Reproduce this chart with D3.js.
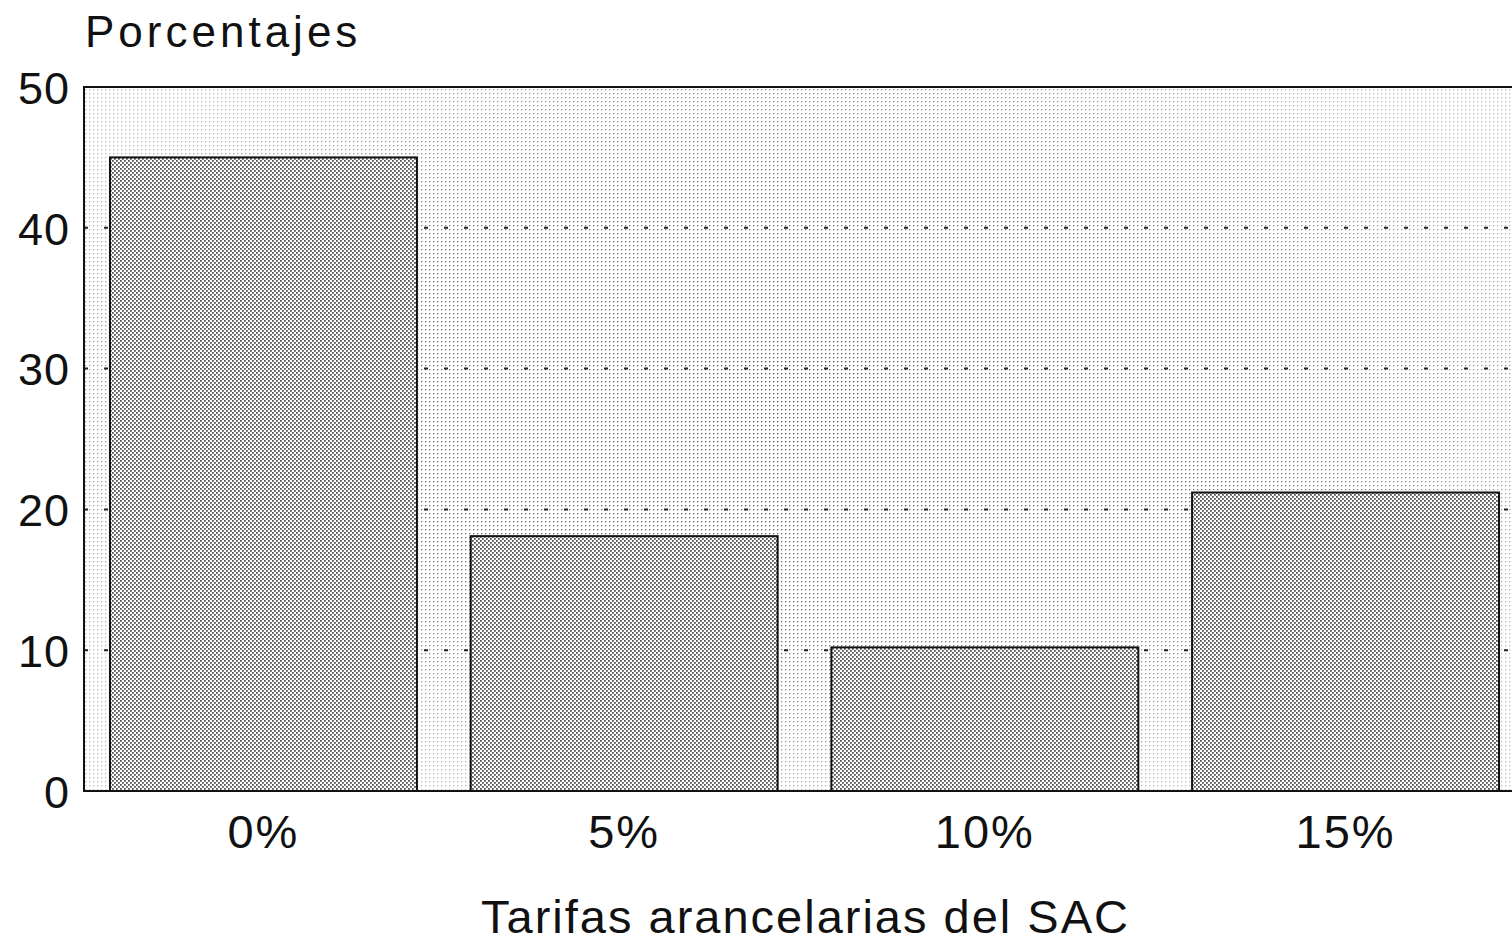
<!DOCTYPE html>
<html>
<head>
<meta charset="utf-8">
<script src="https://cdn.jsdelivr.net/npm/d3@7"></script>
<style>
body { margin: 0; background: #fff; }
svg text { font-family: "Liberation Sans", Arial, sans-serif; fill: #111; }
</style>
</head>
<body>
<svg id="chart"></svg>
<script>
// tarifas del SAC, porcentaje de partidas
var categories = ["0%", "5%", "10%", "15%"];
var values = [45, 18.1, 10.2, 21.2];
var yTicks = [0, 10, 20, 30, 40, 50];
var gridTicks = [10, 20, 30, 40];

var width = 1512,
    height = 942;
var margin = {top: 87, left: 84, bottom: 151};
var plotBottom = height - margin.bottom;

var svg = d3.select("#chart")
  .attr("width", width)
  .attr("height", height);

var x = d3.scaleBand()
  .domain(categories)
  .range([margin.left, 1525])
  .paddingInner(0.149)
  .paddingOuter(0.072);

var y = d3.scaleLinear()
  .domain([0, 50])
  .range([plotBottom, margin.top]);

var defs = svg.append("defs");

// halftone for the bars
var barPat = defs.append("pattern")
  .attr("id", "barDots")
  .attr("patternUnits", "userSpaceOnUse")
  .attr("width", 4).attr("height", 4);
barPat.append("rect").attr("width", 4).attr("height", 4).attr("fill", "#fff");
barPat.append("rect").attr("x", 0).attr("y", 0).attr("width", 1.8).attr("height", 1.8).attr("fill", "#555");
barPat.append("rect").attr("x", 2).attr("y", 2).attr("width", 1.8).attr("height", 1.8).attr("fill", "#555");

// sparse stipple for the background
var bgPat = defs.append("pattern")
  .attr("id", "bgDots")
  .attr("patternUnits", "userSpaceOnUse")
  .attr("width", 4).attr("height", 4);
bgPat.append("rect").attr("x", 1).attr("y", 1).attr("width", 1.3).attr("height", 1.3).attr("fill", "#444");

var grad = defs.append("radialGradient")
  .attr("id", "bgFade")
  .attr("cx", "0.5").attr("cy", "0.45").attr("r", "0.6");
grad.append("stop").attr("offset", "0").attr("stop-color", "#fff").attr("stop-opacity", 0.95);
grad.append("stop").attr("offset", "0.6").attr("stop-color", "#fff").attr("stop-opacity", 0.7);
grad.append("stop").attr("offset", "1").attr("stop-color", "#fff").attr("stop-opacity", 0.35);
var mask = defs.append("mask").attr("id", "bgMask");
mask.append("rect")
  .attr("x", margin.left).attr("y", margin.top)
  .attr("width", width - margin.left).attr("height", plotBottom - margin.top)
  .attr("fill", "url(#bgFade)");

svg.append("rect")
  .attr("x", margin.left).attr("y", margin.top)
  .attr("width", width - margin.left).attr("height", plotBottom - margin.top)
  .attr("fill", "url(#bgDots)")
  .attr("mask", "url(#bgMask)");

// dotted grid
svg.append("g")
  .selectAll("line")
  .data(gridTicks)
  .enter().append("line")
  .attr("x1", margin.left).attr("x2", width)
  .attr("y1", function(d) { return y(d); })
  .attr("y2", function(d) { return y(d); })
  .attr("stroke", "#222")
  .attr("stroke-width", 2)
  .attr("stroke-dasharray", "4,16");

// bars
svg.append("g")
  .selectAll("rect")
  .data(values)
  .enter().append("rect")
  .attr("x", function(d, i) { return x(categories[i]); })
  .attr("y", function(d) { return y(d); })
  .attr("width", x.bandwidth())
  .attr("height", function(d) { return plotBottom - y(d); })
  .attr("fill", "url(#barDots)")
  .attr("stroke", "#111")
  .attr("stroke-width", 2);

// frame
svg.append("path")
  .attr("d", "M" + width + "," + margin.top + "H" + margin.left + "V" + plotBottom + "H" + width)
  .attr("fill", "none")
  .attr("stroke", "#111")
  .attr("stroke-width", 2);

// y axis
var yAxis = d3.axisLeft(y)
  .tickValues(yTicks)
  .tickSize(0)
  .tickPadding(14);
var gy = svg.append("g")
  .attr("transform", "translate(" + margin.left + ",0)")
  .call(yAxis);
gy.select(".domain").remove();
gy.selectAll("text")
  .style("font-size", "45px")
  .style("letter-spacing", "1px")
  .attr("dy", "0.36em")
  .attr("fill", "#111");

// x axis
var xAxis = d3.axisBottom(x).tickSize(0).tickPadding(24);
var gx = svg.append("g")
  .attr("transform", "translate(0," + plotBottom + ")")
  .call(xAxis);
gx.select(".domain").remove();
gx.selectAll("text")
  .style("font-size", "47px")
  .style("letter-spacing", "2px")
  .attr("dy", "0.71em")
  .attr("fill", "#111");

svg.append("text")
  .attr("x", 85)
  .attr("y", 47)
  .style("font-size", "44px")
  .style("letter-spacing", "4px")
  .text("Porcentajes");

svg.append("text")
  .attr("x", (478 + 1133) / 2)
  .attr("y", 933)
  .attr("text-anchor", "middle")
  .style("font-size", "47px")
  .style("letter-spacing", "2px")
  .text("Tarifas arancelarias del SAC");
</script>
</body>
</html>
